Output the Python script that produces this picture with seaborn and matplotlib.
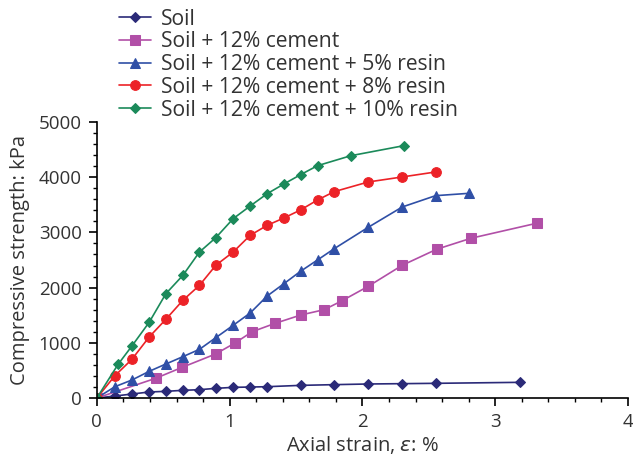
import matplotlib
matplotlib.use("Agg")
import matplotlib.pyplot as plt
import seaborn as sns
import pandas as pd
from matplotlib.ticker import MultipleLocator

sns.set_style("white")
plt.rcParams['font.family'] = ['Open Sans', 'DejaVu Sans']
plt.rcParams['mathtext.fontset'] = 'dejavusans'

# data: strain (%) and compressive strength (kPa)
soil_x = [0, 0.136, 0.264, 0.394, 0.52, 0.648, 0.773, 0.896, 1.027, 1.155, 1.283, 1.534, 1.788, 2.044, 2.30, 2.551, 3.186]
soil_y = [0, 36, 72, 109, 121, 139, 151, 175, 193, 199, 205, 229, 242, 254, 260, 266, 284]

cem_x = [0, 0.442, 0.643, 0.894, 1.04, 1.17, 1.343, 1.537, 1.712, 1.843, 2.044, 2.30, 2.559, 2.817, 3.312]
cem_y = [0, 356, 556, 797, 996, 1201, 1353, 1504, 1600, 1757, 2023, 2404, 2694, 2893, 3165]

r5_x = [0, 0.136, 0.264, 0.394, 0.52, 0.648, 0.773, 0.896, 1.027, 1.155, 1.283, 1.409, 1.534, 1.662, 1.788, 2.044, 2.30, 2.551, 2.805]
r5_y = [0, 205, 326, 483, 616, 749, 882, 1093, 1317, 1540, 1848, 2071, 2295, 2500, 2705, 3092, 3460, 3665, 3708]

r8_x = [0, 0.136, 0.264, 0.394, 0.52, 0.648, 0.773, 0.896, 1.027, 1.155, 1.283, 1.409, 1.534, 1.662, 1.788, 2.044, 2.30, 2.551]
r8_y = [0, 404, 701, 1105, 1426, 1770, 2041, 2404, 2645, 2947, 3128, 3261, 3406, 3587, 3738, 3913, 4004, 4094]

r10_x = [0, 0.16, 0.264, 0.394, 0.52, 0.648, 0.773, 0.896, 1.027, 1.155, 1.283, 1.409, 1.534, 1.662, 1.913, 2.313]
r10_y = [0, 610, 942, 1371, 1890, 2222, 2645, 2904, 3249, 3478, 3701, 3877, 4045, 4208, 4389, 4571]

series = [
    ("Soil", soil_x, soil_y, "#2b2a78", "D", 5),
    ("Soil + 12% cement", cem_x, cem_y, "#b14fa7", "s", 7),
    ("Soil + 12% cement + 5% resin", r5_x, r5_y, "#2f4fa6", "^", 7),
    ("Soil + 12% cement + 8% resin", r8_x, r8_y, "#ec2227", "o", 7),
    ("Soil + 12% cement + 10% resin", r10_x, r10_y, "#1b8a5a", "D", 5),
]

fig = plt.figure(figsize=(6.33, 4.62), dpi=100)
ax = fig.add_axes([0.153, 0.1385, 0.839, 0.5975])

for name, xs, ys, col, mk, ms in series:
    df = pd.DataFrame({"x": xs, "y": ys})
    sns.lineplot(data=df, x="x", y="y", ax=ax, color=col, marker=mk, markersize=ms,
                 markeredgecolor=col, linewidth=1.2, label=name, sort=False)

ax.set_xlim(0, 4)
ax.set_ylim(0, 5000)
ax.xaxis.set_major_locator(MultipleLocator(1))
ax.xaxis.set_minor_locator(MultipleLocator(0.2))
ax.yaxis.set_major_locator(MultipleLocator(1000))
ax.yaxis.set_minor_locator(MultipleLocator(200))
ax.tick_params(which='major', direction='out', length=6, width=1.2, color='black',
               labelsize=13.5, labelcolor='#333333', bottom=True, left=True, pad=5)
ax.tick_params(which='minor', direction='out', length=3, width=1, color='black',
               bottom=True, left=True)
for s in ['top', 'right']:
    ax.spines[s].set_visible(False)
for s in ['left', 'bottom']:
    ax.spines[s].set_color('black')
    ax.spines[s].set_linewidth(1.2)

ax.set_xlabel(r"Axial strain, $\it{\varepsilon}$: %", fontsize=14.5, color='#333333', labelpad=2)
ax.set_ylabel("Compressive strength: kPa", fontsize=14.5, color='#333333', labelpad=6)

h, l = ax.get_legend_handles_labels()
ax.get_legend().remove()
fig.legend(h, l, loc='upper left', bbox_to_anchor=(0.188, 0.981), frameon=False,
           fontsize=15.2, labelspacing=0.08, handlelength=1.5, handletextpad=0.48,
           borderpad=0, borderaxespad=0, labelcolor='#333333')

fig.savefig("out.png", dpi=100)
